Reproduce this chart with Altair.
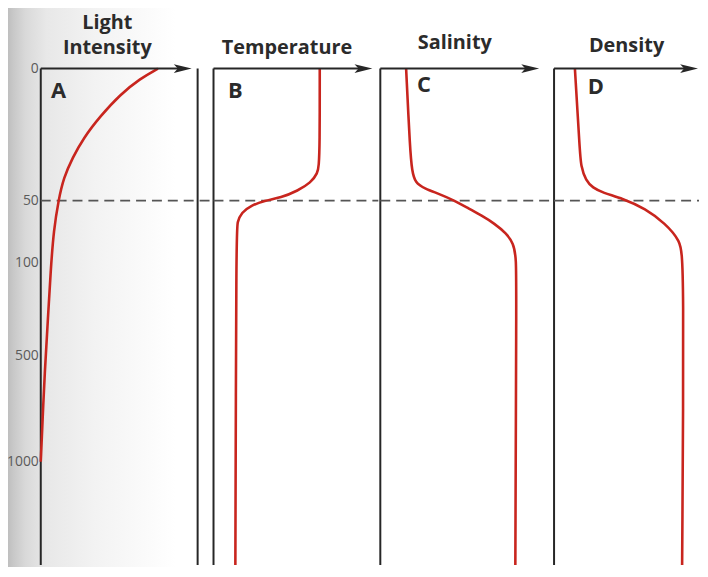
import altair as alt
import pandas as pd

# ---------------- data ----------------
depth_ticks = [0, 50, 100, 500, 1000]
depth_labels = ["0", "50", "100", "500", "1000"]
scale_depths = [0, 50, 100, 500, 1000, 1500]
scale_pixels = [0, 133, 196, 290, 396, 500]

# A: light intensity (relative units measured from the depth axis)
light_x = [118, 100, 80, 60, 43, 32, 23, 18, 13, 10, 7, 4, 2, 0]
light_depth = [0, 3.8, 9.8, 18, 26.3, 33.8, 41.4, 49.6, 73.8, 130, 355, 575, 783, 1000]

# B: temperature
temp_x = [107, 107, 106, 105, 98, 85, 68, 51, 38, 28, 24, 23, 22]
temp_depth = [0, 30, 36.8, 39.5, 43.2, 46.2, 48.9, 50, 54, 59.5, 67.5, 73.8, 1500]

# C: salinity
sal_x = [26, 30, 32, 35, 45, 59, 75, 89, 102, 115, 127, 134, 137, 137, 136]
sal_depth = [0, 31.2, 38.7, 43.2, 45.5, 47.4, 50, 56.3, 61.9, 68.3, 76.2, 84.1, 95.2, 257, 1500]

# D: density
dens_x = [21, 26, 27, 32, 39, 49, 69, 92, 112, 127, 131, 129]
dens_depth = [0, 31.2, 36.8, 42.5, 45.1, 47, 49.2, 56.3, 68.3, 81.7, 97.6, 1500]

thermocline_depth = 50
bottom_depth = 1500

RED = "#c8251e"
INK = "#262626"
TITLE_FONT = "Open Sans"
LABEL_FONT = "Open Sans"
ARROW = "M-1,-0.5 L1,0 L-1,0.5 L-0.55,0 Z"
TOP_EXTENT = -59
BOTTOM_EXTENT = 502


def panel(width, cx, cd, tip, letter, letter_xy, titles, show_labels, border_x=None):
    xs = alt.Scale(domain=[0, width], nice=False, zero=False)
    ys = alt.Scale(domain=scale_depths, range=scale_pixels, nice=False, zero=False)
    layers = []

    if show_labels:
        shade = alt.Chart(pd.DataFrame({"t": [0]})).mark_rect(
            color=alt.Gradient(
                gradient="linear", x1=0, x2=1, y1=0, y2=0,
                stops=[alt.GradientStop(color="#b3b3b3", offset=0),
                       alt.GradientStop(color="#c8c8c8", offset=0.07),
                       alt.GradientStop(color="#d9d9d9", offset=0.14),
                       alt.GradientStop(color="#e8e8e8", offset=0.26),
                       alt.GradientStop(color="#f3f3f3", offset=0.55),
                       alt.GradientStop(color="#ffffff", offset=1)])
        ).encode(x=alt.value(-40), x2=alt.value(136),
                 y=alt.value(TOP_EXTENT - 4), y2=alt.value(BOTTOM_EXTENT))
        layers.append(shade)
    else:
        # invisible spacer so all panels share the same top edge
        layers.append(alt.Chart(pd.DataFrame({"t": [0]})).mark_rect(opacity=0).encode(
            x=alt.value(0), x2=alt.value(1),
            y=alt.value(TOP_EXTENT - 4), y2=alt.value(0)))

    # depth axis line
    ax_df = pd.DataFrame({"a": [0], "d0": [0], "d1": [bottom_depth]})
    layers.append(alt.Chart(ax_df).mark_rule(color=INK, strokeWidth=2).encode(
        x=alt.X("a:Q", scale=xs, axis=None),
        y=alt.Y("d0:Q", scale=ys, axis=None), y2="d1:Q"))

    if show_labels:
        lab_df = pd.DataFrame({"depth": depth_ticks, "lab": depth_labels})
        layers.append(alt.Chart(lab_df).mark_text(
            font=LABEL_FONT, fontSize=14, color="#5a5a5a", align="right", baseline="middle"
        ).encode(text="lab:N", x=alt.value(-2),
                 y=alt.Y("depth:Q", scale=ys, axis=None)))

    if border_x is not None:
        b_df = pd.DataFrame({"a": [border_x], "d0": [0], "d1": [bottom_depth]})
        layers.append(alt.Chart(b_df).mark_rule(color=INK, strokeWidth=2).encode(
            x=alt.X("a:Q", scale=xs, axis=None),
            y=alt.Y("d0:Q", scale=ys, axis=None), y2="d1:Q"))

    dash_df = pd.DataFrame({"a": [0], "b": [width], "depth": [thermocline_depth]})
    layers.append(alt.Chart(dash_df).mark_rule(color="#555555", strokeWidth=1.6,
                                               strokeDash=[10, 6]).encode(
        x=alt.X("a:Q", scale=xs, axis=None), x2="b:Q",
        y=alt.Y("depth:Q", scale=ys, axis=None)))

    curve_df = pd.DataFrame({"v": cx, "depth": cd, "k": list(range(len(cx)))})
    layers.append(alt.Chart(curve_df).mark_line(color=RED, strokeWidth=2.6,
                                                interpolate="basis").encode(
        x=alt.X("v:Q", scale=xs, axis=None),
        y=alt.Y("depth:Q", scale=ys, axis=None),
        order="k:Q"))

    top_df = pd.DataFrame({"a": [0], "b": [tip - 10], "depth": [0]})
    layers.append(alt.Chart(top_df).mark_rule(color=INK, strokeWidth=2).encode(
        x=alt.X("a:Q", scale=xs, axis=None), x2="b:Q",
        y=alt.Y("depth:Q", scale=ys, axis=None)))
    head_df = pd.DataFrame({"a": [tip - 9], "depth": [0]})
    layers.append(alt.Chart(head_df).mark_point(shape=ARROW, filled=True, size=324, color=INK,
                                                opacity=1, strokeWidth=0).encode(
        x=alt.X("a:Q", scale=xs, axis=None),
        y=alt.Y("depth:Q", scale=ys, axis=None)))

    let_df = pd.DataFrame({"t": [letter]})
    layers.append(alt.Chart(let_df).mark_text(font=TITLE_FONT, fontSize=22, fontWeight="bold",
                                              color="#2b2b2b").encode(
        text="t:N", x=alt.value(letter_xy[0]), y=alt.value(letter_xy[1])))

    for txt, tx, ty in titles:
        t_df = pd.DataFrame({"t": [txt]})
        layers.append(alt.Chart(t_df).mark_text(font=TITLE_FONT, fontSize=20, fontWeight="bold",
                                                color="#2b2b2b").encode(
            text="t:N", x=alt.value(tx), y=alt.value(ty)))

    return alt.layer(*layers).properties(width=width, height=scale_pixels[-1])


pA = panel(172, light_x, light_depth, 152, "A", (18, 23),
           [("Light", 67, -46), ("Intensity", 67, -21)], True, border_x=158)
pB = panel(166, temp_x, temp_depth, 160, "B", (22, 23), [("Temperature", 74, -21)], False)
pC = panel(173, sal_x, sal_depth, 160, "C", (44, 17), [("Salinity", 75, -26)], False)
pD = panel(146, dens_x, dens_depth, 145, "D", (42, 19), [("Density", 73, -23)], False)

# the shade rectangle (x=-40, y=-63) is the outer bound; negative padding trims it so
# the depth axis lands at x≈41 and the top arrows at y≈67 on the page
chart = alt.hconcat(pA, pB, pC, pD, spacing=0).properties(
    padding={"left": -7, "top": -4, "right": 0, "bottom": 0}
).configure_view(stroke=None)

chart.save("out.html", embed_options={"renderer": "svg", "actions": False})
